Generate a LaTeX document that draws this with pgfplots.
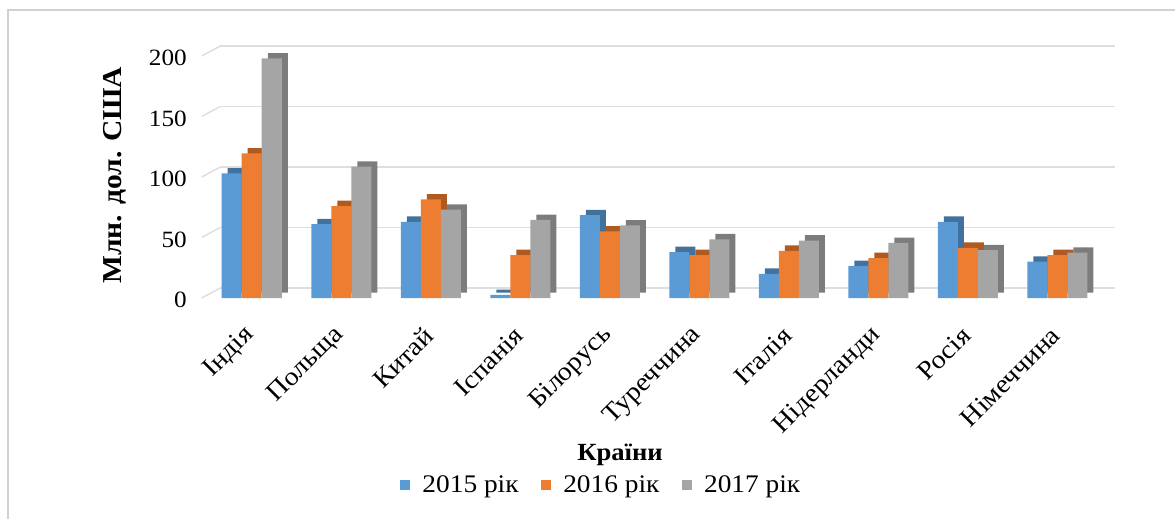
\documentclass[border=0pt]{standalone}
\usepackage{pgfplots}
\pgfplotsset{compat=1.18}
\usepackage{pgfplotstable}
\usepackage{fontspec}
\setmainfont{Liberation Serif}[FakeStretch=1.08]
\definecolor{c1}{HTML}{5B9BD5}
\definecolor{c2}{HTML}{ED7D31}
\definecolor{c3}{HTML}{A5A5A5}
\definecolor{c1d}{HTML}{41719C}
\definecolor{c2d}{HTML}{AE5A21}
\definecolor{c3d}{HTML}{7C7C7C}
\pgfplotstableread{
x a b c
0 103 119.5 198
1 61 76 108.5
2 63 81.5 73
3 2.5 35.5 64.5
4 68.5 55 60
5 38 35.5 48.5
6 20 39 47.5
7 26.5 33 45.5
8 63 41.5 39.5
9 30 35.5 37.5
}\data
\begin{document}
\begin{tikzpicture}
\path[use as bounding box] (0,0) rectangle (881.25pt,389.25pt);
\begin{axis}[
 at={(155.25pt,165.75pt)}, anchor=south west,
 scale only axis, width=671.25pt, height=181.5pt,
 xmin=-0.5, xmax=9.5, ymin=0, ymax=200,
 ytick={0,50,100,150,200},
 xtick=data,
 xticklabels={Індія,Польща,Китай,Іспанія,Білорусь,Туреччина,Італія,Нідерланди,Росія,Німеччина},
 ymajorgrids,
 major grid style={draw=black!13, line width=1.1pt, xshift=10pt, yshift=7.5pt},
 axis line style={draw=none}, major tick length=0pt,
 clip=false,
 ybar, bar width=15pt,
 /pgf/number format/assume math mode=true,
 yticklabel style={font=\fontsize{17.5}{20}\selectfont, anchor=east, inner sep=0pt, xshift=-15pt, yshift=-1.5pt},
 xticklabel style={font=\fontsize{19.5}{22}\selectfont, xshift=-1pt, yshift=-25pt, rotate=45, anchor=east, inner sep=0pt},
 legend style={at={(0.441,-0.773)}, anchor=center, draw=none, fill=none,
   legend columns=3, font=\fontsize{19}{22}\selectfont,
   /tikz/every odd column/.append style={column sep=7pt},
   /tikz/every even column/.append style={column sep=15pt}},
 legend image code/.code={\fill[#1] (0pt,-3.75pt) rectangle (7.5pt,3.75pt);},
]
\pgfplotsinvokeforeach{0,50,100,150,200}{\draw[black!13, line width=1.1pt] (axis cs:-0.5,#1) ++(-4pt,0pt) -- ++(14pt,7.5pt);}
\addplot[draw=none, fill=c1d, bar shift=-15pt, xshift=4.5pt, yshift=4pt, forget plot] table[x=x,y=a]{\data};
\addplot[draw=none, fill=c1, bar shift=-15pt] table[x=x,y=a]{\data};
\addlegendentry{2015 рік}
\addplot[draw=none, fill=c2d, bar shift=0pt, xshift=4.5pt, yshift=4pt, forget plot] table[x=x,y=b]{\data};
\addplot[draw=none, fill=c2, bar shift=0pt] table[x=x,y=b]{\data};
\addlegendentry{2016 рік}
\addplot[draw=none, fill=c3d, bar shift=15pt, xshift=4.5pt, yshift=4pt, forget plot] table[x=x,y=c]{\data};
\addplot[draw=none, fill=c3, bar shift=15pt] table[x=x,y=c]{\data};
\addlegendentry{2017 рік}
\node[rotate=90, font=\bfseries\fontsize{20.5}{24}\selectfont] at (axis description cs:-0.1028,0.508) {Млн. дол. США};
\node[font=\bfseries\fontsize{18.5}{22}\selectfont] at (axis description cs:0.4615,-0.649) {Країни};
\end{axis}
\draw[black!18, line width=1.5pt] (6pt,0pt) -- (6pt,381.75pt) -- (881.25pt,381.75pt);
\end{tikzpicture}
\end{document}
